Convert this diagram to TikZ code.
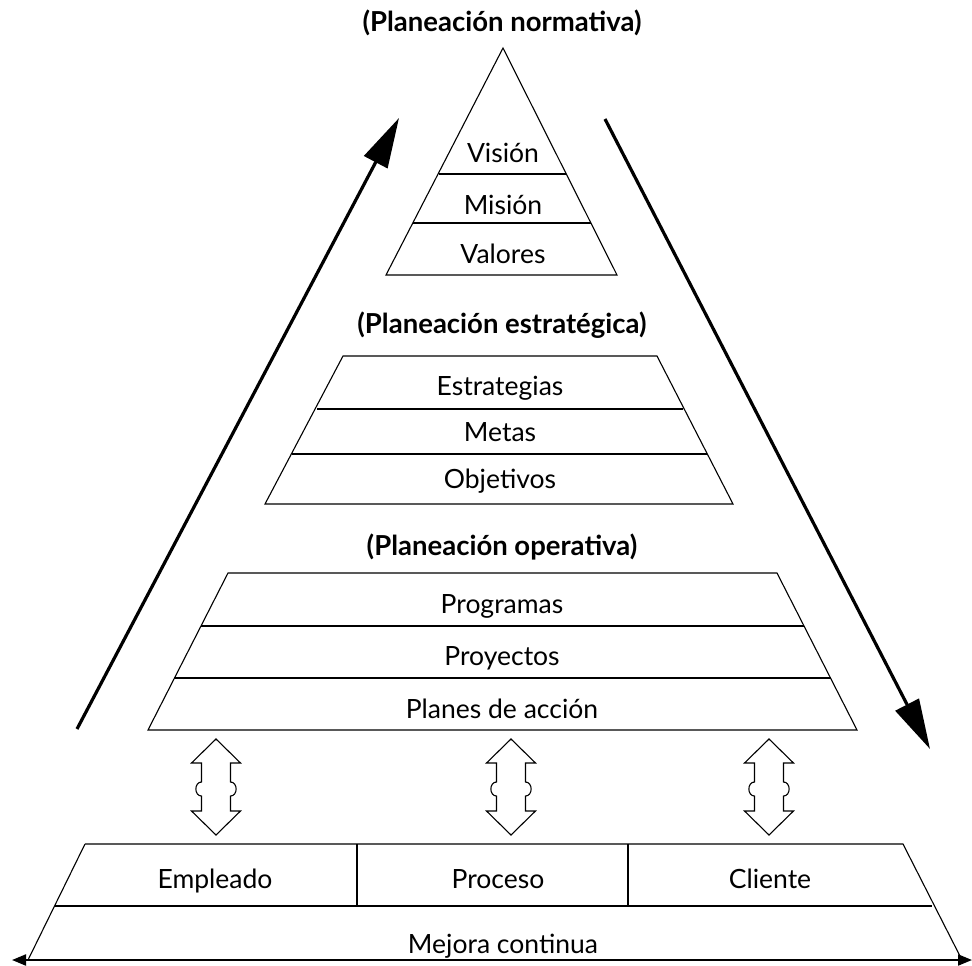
\documentclass[tikz,border=0pt]{standalone}
\usepackage{fontspec}
\setmainfont{Lato}
\usetikzlibrary{arrows.meta}
\begin{document}
\begin{tikzpicture}[x=1pt,y=-1pt,
  lbl/.style={font=\fontsize{26.5}{30}\selectfont, inner sep=0pt, anchor=base},
  ttl/.style={font=\fontsize{27.5}{32}\selectfont\bfseries, inner sep=0pt, anchor=base},
  box/.style={line width=1.1pt, line join=miter},
  bigarrow/.style={line width=3.2pt, -{Triangle[length=50pt,width=26pt]}},
  dbl/.pic={\draw[line width=1.1pt, fill=white]
     (0,-48) -- (24.5,-24) -- (14.5,-24) -- (14.5,-5)
     .. controls (22,-5) and (22,9) .. (14.5,9) -- (14.5,24) -- (24.5,24)
     -- (0,48) -- (-24.5,24) -- (-14.5,24) -- (-14.5,9)
     .. controls (-22,9) and (-22,-5) .. (-14.5,-5) -- (-14.5,-24)
     -- (-24.5,-24) -- cycle;}
]
\useasboundingbox (0,0) rectangle (972,966);

% normative triangle
\draw[box] (503,48) -- (617,275) -- (386,275) -- cycle;
\draw[box] (439,174) -- (566,174);
\draw[box] (413,223) -- (591,223);
\node[ttl] (tnorm) at (502,32) {(Planeación normativa)};
\node[lbl] (vision) at (503,162) {Visión};
\node[lbl] (mision) at (503,214) {Misión};
\node[lbl] (valores) at (503,263) {Valores};

% strategic trapezoid
\draw[box] (343,356) -- (657,356) -- (733,504) -- (265,504) -- cycle;
\draw[box] (317,409) -- (683,409);
\draw[box] (292,454) -- (707,454);
\node[ttl] (testr) at (502,333) {(Planeación estratégica)};
\node[lbl] (estrategias) at (500,395) {Estrategias};
\node[lbl] (metas) at (500,441) {Metas};
\node[lbl] (objetivos) at (500,488) {Objetivos};

% operative trapezoid
\draw[box] (228,573) -- (777,573) -- (857,730) -- (148,730) -- cycle;
\draw[box] (201,626) -- (804,626);
\draw[box] (174,678) -- (831,678);
\node[ttl] (toper) at (502,555) {(Planeación operativa)};
\node[lbl] (programas) at (502,613) {Programas};
\node[lbl] (proyectos) at (502,665) {Proyectos};
\node[lbl] (planes) at (502,718) {Planes de acción};

% double arrows
\pic at (216,787) {dbl};
\pic at (511,787) {dbl};
\pic at (769,787) {dbl};

% bottom box
\draw[box] (85,844) -- (903,844) -- (962,960);
\draw[box] (85,844) -- (28,960);
\draw[box] (55,906) -- (932,906);
\draw[box] (357,844) -- (357,906);
\draw[box] (628,844) -- (628,906);
\node[lbl] (empleado) at (215,888) {Empleado};
\node[lbl] (proceso) at (498,888) {Proceso};
\node[lbl] (cliente) at (770,888) {Cliente};
\node[lbl] (mejora) at (503,953) {Mejora continua};

\coordinate (bl) at (12,960);
\coordinate (br) at (972,960);
\draw[line width=2pt, {Triangle[length=14pt,width=11pt]}-{Triangle[length=14pt,width=11pt]}] (bl) -- (br);

% big arrows
\coordinate (la0) at (77,729);
\coordinate (la1) at (399,118);
\coordinate (ra0) at (605,119);
\coordinate (ra1) at (930,749);
\draw[bigarrow] (la0) -- (la1);
\draw[bigarrow] (ra0) -- (ra1);
\end{tikzpicture}
\end{document}
